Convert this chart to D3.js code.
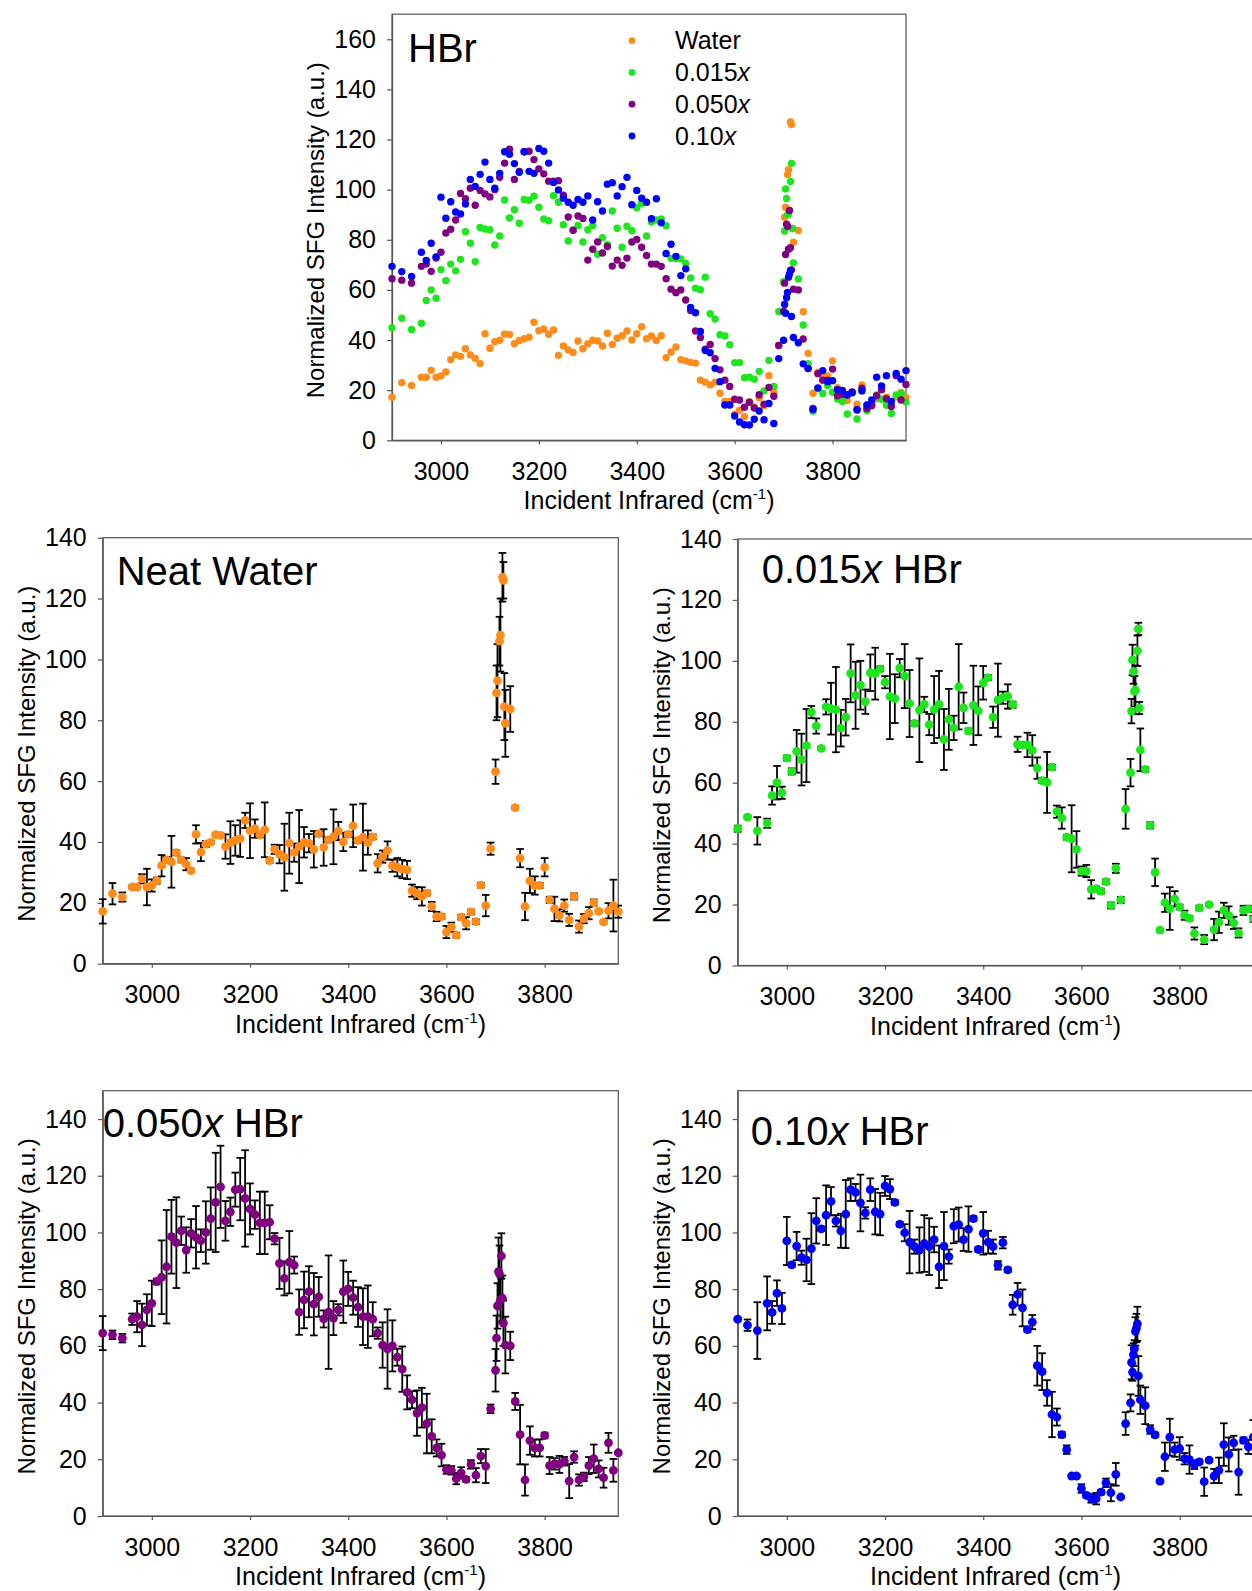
<!DOCTYPE html>
<html>
<head>
<meta charset="utf-8">
<script src="https://cdn.jsdelivr.net/npm/d3@7"></script>
<style>
  body { margin: 0; background: #fff; }
  text { font-family: "Liberation Sans", Arial, sans-serif; fill: #000; }
</style>
</head>
<body>
<div id="vis"></div>
<script>
// scan positions (cm-1), shared by all four spectra
var wavenumber = [
  2900, 2920, 2940, 2960, 2970, 2980, 2990, 3000, 3010, 3020,
  3030, 3040, 3050, 3060, 3070, 3080, 3090, 3100, 3110, 3120,
  3130, 3140, 3150, 3160, 3170, 3180, 3190, 3200, 3210, 3220,
  3230, 3240, 3250, 3260, 3270, 3280, 3290, 3300, 3310, 3320,
  3330, 3340, 3350, 3360, 3370, 3380, 3390, 3400, 3410, 3420,
  3430, 3440, 3450, 3460, 3470, 3480, 3490, 3500, 3510, 3520,
  3530, 3540, 3550, 3560, 3570, 3580, 3590, 3600, 3610, 3620,
  3630, 3640, 3650, 3660, 3670, 3680, 3690, 3700, 3702, 3704,
  3706, 3708, 3710, 3712, 3714, 3716, 3718, 3720, 3730, 3740,
  3750, 3760, 3770, 3780, 3790, 3800, 3810, 3820, 3830, 3840,
  3850, 3860, 3870, 3880, 3890, 3900, 3910, 3920, 3930, 3940,
  3950
];

var water = [
  17.2, 23, 21.9, 25.2, 25.2, 27.9, 25.2, 25.7, 27.3, 32.2,
  34.1, 33.5, 36.5, 34.1, 32.7, 30.6, 42.5, 36.7, 39.3, 39.9,
  42.4, 42.2, 38.5, 39.8, 40.5, 41.1, 47.1, 43.7, 44.4, 42.3,
  44, 33.9, 37.6, 36, 35, 39.6, 36.5, 38.5, 39.9, 39.6,
  37.6, 42.7, 38.2, 40.7, 41.7, 43.6, 40, 42.5, 45.3, 40.5,
  41.6, 39.8, 41.7, 33, 35.2, 37.2, 32.2, 31.7, 31.1, 30.8,
  24, 23.2, 22.1, 23.2, 18.8, 15.5, 15.5, 10.4, 12, 9.4,
  15.3, 13.3, 17, 13.8, 25.8, 19.1, 37.8, 63.1, 89, 93,
  null, 106, 108, null, 127, 126, 84.5, 79, 83.7, 51.3,
  34.7, 18.8, 27.2, 25.7, 25.7, 31.7, 21, 18, 15.9, 19.1,
  14.4, 22.1, 12.2, 14.8, 16.6, 20.1, 17.2, 13.7, 17.4, 19.1,
  17.1
];
var waterErr = [
  4, 3.5, 1.5, 0.5, 0.5, 1.5, 6, 2, 1, 3.5,
  1, 8.5, 0.8, 0.8, 2, 0.5, 3, 3, 1, 0.5,
  0.5, 0.5, 4, 7, 5, 6, 2.5, 9, 3, 0.8,
  9, 0.8, 1.5, 3, 11, 10, 3, 12, 5, 3,
  6, 0.8, 6, 0.8, 9, 3, 3, 0.8, 7, 0.8,
  11, 4, 0.8, 3, 2, 3, 2, 3, 3, 3,
  2, 2, 3, 0.8, 1.5, 1.5, 0.8, 2, 1.5, 0.8,
  0.8, 2, 0.8, 0.8, 0.8, 3.5, 2, 4, 9, 12,
  null, 8, 12, null, 8, 6, 11, 11, 7.5, 0.5,
  3, 4.5, 4, 3, 0.8, 3, 1, 4, 2, 2,
  2, 1, 2, 1.5, 2, 1, 0.5, 0.5, 2.5, 8.5,
  2
];

var hbr015 = [
  44.9, 48.7, 44.2, 46.7, 55.8, 60, 56.7, 68.1, 63.7, 70.3,
  67.6, 72.2, 83.2, 78.6, 71.3, 84.9, 84.3, 84, 77.9, 81.5,
  95.9, 88.7, 92, 86.6, 96.1, 95.8, 97.4, 93, 88.3, 87.6,
  97.6, 95, 86, 79.5, 83.8, 85.7, 79.1, 84, 85.7, 74.2,
  80.8, 78, 91.5, 84.6, 77, 85.4, 83.6, 92.8, 94.5, 81.5,
  87.1, 87.9, 88.3, 85.6, 72.6, 72.4, 72.4, 70.6, 64.8, 60.7,
  60.1, 65.1, 50.5, 48.4, 42.1, 41.6, 38.1, 31, 31, 25,
  25.2, 24.4, 27.5, 19.7, 31.9, 21.5, 51.4, 63.3, 83.5, 100.3,
  96.5, 90, 90.5, null, 103.3, 110.5, 84.5, 70.8, 64.4, 46,
  30.6, 11.6, 20.6, 18.7, 21.9, 19.2, 16.5, 15.5, 10.5, 18.9,
  8.5, 20, 11.8, 14.2, 18.1, 16.4, 14, 10.7, 18.1, 18.6,
  15.3
];
var hbr015Err = [
  1, 0.5, 4.5, 1.5, 3, 5.5, 2, 0.8, 1, 7,
  8.5, 12, 2, 2.5, 0.5, 2.5, 8.5, 14, 6, 6,
  9.5, 11, 8, 4, 6, 8.5, 0.8, 2, 14, 8,
  3, 10.5, 11, 0.8, 17, 2.5, 3.5, 11, 11, 10,
  10, 4, 14, 5, 0.8, 13, 8, 5.5, 0.8, 3.5,
  12, 2, 4, 1, 2.5, 0.8, 4, 5, 3.5, 0.8,
  10, 0.8, 2, 3.5, 0.8, 11, 6, 1.5, 2, 3,
  0.8, 0.8, 0.8, 1, 1.5, 1, 6.5, 4.5, 4, 5,
  4, 5, 8, null, 5, 2, 2, 7, 0.8, 1,
  4.5, 0.5, 3, 7, 2.5, 0.8, 1.5, 0.8, 2, 0.8,
  1.5, 0.5, 3.5, 3.5, 2.5, 3, 2, 1.5, 1.5, 1,
  1
];

var hbr050 = [
  64.5, 63.9, 62.7, 69.4, 70.3, 67.4, 72.7, 75, 82.7, 84.2,
  87.9, 98.5, 96.4, 100.6, 93.8, 99.7, 98.3, 97.1, 100, 104.9,
  110.6, 116.1, 104.1, 107.3, 115.1, 115.3, 112, 108.3, 106.3, 103.4,
  103.4, 103.6, 97.8, 89.1, 83.8, 89.5, 88.5, 71.9, 76.2, 79.1,
  74.7, 77.3, 69.5, 71.9, 69.8, 72.7, 79.1, 80.1, 77, 73.7,
  70.3, 70.3, 69.4, 64.5, 60.3, 58.9, 60, 56, 51.8, 43.6,
  41, 36.3, 38.2, 32.6, 28.1, 24, 21.5, 16.4, 16.1, 13.2,
  15.2, 12.9, 18.2, 14.4, 21.1, 17.6, 37.8, 51.4, 62.7, 74.1,
  86.2, 85.4, 76.2, 91.7, 76.8, 68, null, 60.3, 60, 40.4,
  28.7, 12.7, 26.6, 24, 24, 28.4, 17.8, 18.4, 18.2, 19.3,
  12.3, 20.8, 12.7, 13.8, 17.8, 20.2, 16.6, 13.5, 25.8, 16.1,
  22.3
];
var hbr050Err = [
  6, 1.5, 1.5, 2, 5.5, 7.5, 5.5, 8, 1, 13,
  20, 13, 16, 5, 8, 5, 11, 4, 11, 11,
  17.5, 14.5, 7, 5, 6, 11, 17, 9, 5, 11,
  11, 6, 2, 9, 6, 11, 3, 8, 10, 9,
  11, 7, 3, 20, 6, 2, 11, 6, 6, 7,
  10, 11, 6, 2, 8, 14, 9, 3, 8, 6,
  3, 8, 7, 10.5, 6, 3, 4, 1.5, 1.5, 2,
  2, 0.8, 1.5, 2.5, 2.5, 6, 1.5, 7.5, 8, 8,
  12, 10, 8, 8, 8, 8, null, 10, 5, 3,
  10.5, 5.5, 5, 3, 3, 1, 3, 2, 3, 1.5,
  6, 2, 2, 1.5, 3, 5, 3, 3.5, 3.5, 4,
  0.5
];

var hbr10 = [
  69.4, 67.3, 65.4, 75, 71.8, 78.6, 73.2, 97, 88.6, 95.2,
  91.1, 90.3, 94.3, 104.1, 101.3, 106.1, 111, 104.1, 100.6, 106.5,
  115.1, 114.1, 110.4, 106.9, 115.1, 107.3, 106.5, 116.4, 115.3, 110.6,
  102.9, 99.9, 96.6, 95, 93.8, 96.1, 95, 97.5, 87.9, 95.2,
  91.5, 102.2, 102.8, 97.5, 101.2, 104.9, 94, 99.7, 96.6, 95,
  88.4, 96.4, 86.8, 74.5, 78.2, 73.4, 65.7, 68.4, 53, 50.9,
  43.4, 35.8, 34.9, 28.7, 23.4, 14.1, 14.1, 9.7, 7.3, 6.2,
  6.1, 8.4, 11.7, 8.2, 14.7, 6.7, 32.6, 39.9, 54.2, 50.7,
  56.9, 59, 65.1, 66.3, 67.8, 49.4, null, 41, 38.9, 30.5,
  28.6, 12.3, 20.9, 27.8, 23.4, 23.8, 20.2, 19.9, 18.1, 19.1,
  12.1, 19.7, 14.1, 16.1, 25.2, 21.7, 25.8, 15.5, 26.7, 24.4,
  27.8
];
var hbr10Err = [
  0.5, 2, 10, 9.5, 4, 4.5, 5.5, 8.5, 0.8, 5,
  2.5, 7.5, 12.5, 8, 0.8, 10.5, 5, 2, 6, 12,
  4, 3, 10, 2, 4, 8, 7.5, 3.5, 3.5, 0.8,
  0.8, 3, 11, 2.5, 8, 10, 10, 4.5, 7.5, 12,
  2.5, 6, 6, 4, 8, 0.8, 0.8, 7.5, 4, 2.5,
  1.5, 2, 0.8, 3.5, 4, 6.5, 0.8, 2.5, 7, 6.5,
  4.5, 8, 3, 1, 1.5, 0.5, 0.5, 1.5, 0.8, 1.5,
  2, 0.8, 1.5, 3, 4, 0.5, 4, 3, 6, 3,
  4, 3, 5, 5, 6, 7, null, 5, 6.5, 1.5,
  0.8, 0.5, 5, 6.5, 2.5, 4, 2, 5, 1.5, 0.8,
  5, 0.5, 2.5, 4.5, 7.5, 6, 2.5, 8, 1, 2.5,
  6
];

var legendLabels = ['Water', '0.015x', '0.050x', '0.10x'];
var panelTitles = ['Neat Water', '0.015x HBr', '0.050x HBr', '0.10x HBr'];
var xTicks = [3000, 3200, 3400, 3600, 3800];
var yTicksTop = [0, 20, 40, 60, 80, 100, 120, 140, 160];
var yTicksPanel = [0, 20, 40, 60, 80, 100, 120, 140];

var xDomain = [2900, 3950];
var colors = ['#ff8c1a', '#1ee61e', '#800080', '#0000ff'];
var axisColor = '#555';

var series = [
  { values: water, errors: waterErr },
  { values: hbr015, errors: hbr015Err },
  { values: hbr050, errors: hbr050Err },
  { values: hbr10, errors: hbr10Err }
];
series.forEach(function (s, i) { s.color = colors[i]; s.label = legendLabels[i]; });

var svg = d3.select('#vis').append('svg')
  .attr('width', 1252)
  .attr('height', 1591);

// "0.015x HBr" -> italic x
function fancyLabel(sel, label) {
  var m = /^([\d.]+)x(.*)$/.exec(label);
  if (!m) { sel.text(label); return; }
  sel.append('tspan').text(m[1]);
  sel.append('tspan').attr('font-style', 'italic').text('x');
  if (m[2]) sel.append('tspan').text(m[2]);
}

function pointsOf(s) {
  return wavenumber.map(function (w, i) {
    return { x: w, v: s.values[i], e: s.errors[i] };
  }).filter(function (d) { return d.v !== null; });
}

function drawPanel(p) {
  var x = d3.scaleLinear().domain(xDomain).range([p.left, p.right]);
  var y = d3.scaleLinear().domain([0, p.yMax]).range([p.bottom, p.top]);
  var g = svg.append('g');

  g.append('rect')
    .attr('x', p.left).attr('y', p.top)
    .attr('width', p.right - p.left).attr('height', p.bottom - p.top)
    .attr('fill', 'none').attr('stroke', axisColor).attr('stroke-width', 1.2);

  var yAxis = g.append('g')
    .attr('transform', 'translate(' + p.left + ',0)')
    .call(d3.axisLeft(y).tickValues(p.yTicks).tickSize(5).tickSizeOuter(0).tickPadding(11));
  var xAxis = g.append('g')
    .attr('transform', 'translate(0,' + p.bottom + ')')
    .call(d3.axisBottom(x).tickValues(xTicks).tickFormat(d3.format('d'))
      .tickSize(4).tickSizeOuter(0).tickPadding(18));
  [yAxis, xAxis].forEach(function (a) {
    a.attr('font-size', 25);
    a.selectAll('line, path').attr('stroke', axisColor).attr('stroke-width', 1.2);
  });

  // axis titles
  var xt = g.append('text')
    .attr('x', (p.left + p.right) / 2)
    .attr('y', p.bottom + 69)
    .attr('text-anchor', 'middle')
    .attr('font-size', 25)
    .text('Incident Infrared (cm');
  xt.append('tspan').attr('font-size', 15).attr('dy', -10).text('-1');
  xt.append('tspan').attr('font-size', 25).attr('dy', 10).text(')');

  g.append('text')
    .attr('transform', 'translate(' + (p.left - 68) + ',' + ((p.top + p.bottom) / 2 + 3) + ') rotate(-90)')
    .attr('text-anchor', 'middle')
    .attr('font-size', 24)
    .text('Normalized SFG Intensity (a.u.)');

  // panel title
  var t = g.append('text')
    .attr('x', p.left + p.titleDx)
    .attr('y', p.top + p.titleDy)
    .attr('font-size', 40);
  fancyLabel(t, p.title);

  p.series.forEach(function (s) {
    var pts = pointsOf(s);
    if (p.errorBars) {
      var bars = g.append('g')
        .attr('stroke', '#000')
        .attr('stroke-width', 1.8)
        .selectAll('g')
        .data(pts.filter(function (d) { return d.e !== null; }))
        .enter().append('g');
      bars.append('line')
        .attr('x1', function (d) { return x(d.x); })
        .attr('x2', function (d) { return x(d.x); })
        .attr('y1', function (d) { return y(d.v + d.e); })
        .attr('y2', function (d) { return y(d.v - d.e); });
      [1, -1].forEach(function (sign) {
        bars.append('line')
          .attr('x1', function (d) { return x(d.x) - 3.8; })
          .attr('x2', function (d) { return x(d.x) + 3.8; })
          .attr('y1', function (d) { return y(d.v + sign * d.e); })
          .attr('y2', function (d) { return y(d.v + sign * d.e); });
      });
    }
    g.append('g').selectAll('circle')
      .data(pts)
      .enter().append('circle')
      .attr('cx', function (d) { return x(d.x); })
      .attr('cy', function (d) { return y(d.v); })
      .attr('r', p.radius)
      .attr('fill', s.color);
  });

  return g;
}

// overview panel with all four spectra
var overview = drawPanel({
  left: 392, right: 906, top: 14.2, bottom: 440.3, yMax: 170,
  yTicks: yTicksTop, title: 'HBr', titleDx: 16, titleDy: 48,
  series: series, errorBars: false, radius: 3.7
});

var legend = overview.append('g').selectAll('g')
  .data(series)
  .enter().append('g')
  .attr('transform', function (d, i) { return 'translate(632,' + (40.6 + i * 31.8) + ')'; });
legend.append('circle').attr('r', 3.4).attr('fill', function (d) { return d.color; });
legend.append('text')
  .attr('x', 43)
  .attr('dy', '0.35em')
  .attr('font-size', 25)
  .each(function (d) { fancyLabel(d3.select(this), d.label); });

var panels = [
  { left: 102.7, right: 618.3, top: 537.7, bottom: 963.7, yMax: 140, titleDx: 14, titleDy: 47 },
  { left: 737.7, right: 1253.3, top: 539, bottom: 965.5, yMax: 140, titleDx: 24, titleDy: 44 },
  { left: 102.7, right: 618.3, top: 1090.7, bottom: 1516, yMax: 150, titleDx: 0, titleDy: 46 },
  { left: 737.7, right: 1253.3, top: 1090.7, bottom: 1516, yMax: 150, titleDx: 13, titleDy: 54 }
];
panels.forEach(function (p, i) {
  p.yTicks = yTicksPanel;
  p.title = panelTitles[i];
  p.series = [series[i]];
  p.errorBars = true;
  p.radius = 4.4;
  drawPanel(p);
});
</script>
</body>
</html>
